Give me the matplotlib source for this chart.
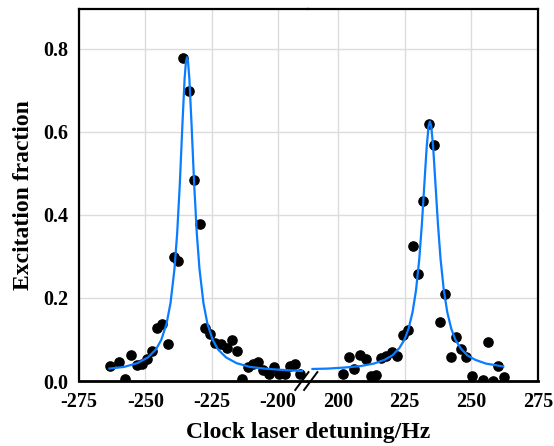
import numpy as np
import matplotlib
matplotlib.use("Agg")
import matplotlib.pyplot as plt

plt.rcParams['font.family'] = ['Liberation Serif', 'DejaVu Serif']
plt.rcParams['font.weight'] = 'bold'
plt.rcParams['axes.unicode_minus'] = False

# measured points (detuning in Hz, excitation fraction)
left_x = [-263.3, -259.8, -257.7, -255.5, -253.3, -251.4, -249.5, -247.6, -245.7, -243.9,
          -241.4, -239.2, -237.5, -235.7, -233.6, -231.6, -229.4, -227.6, -225.7, -223.8,
          -221.3, -219.4, -217.5, -215.6, -213.5, -211.3, -209.4, -207.5, -205.6, -203.5,
          -201.6, -199.7, -197.4, -195.6, -193.7, -191.8]
left_y = [0.036, 0.046, 0.005, 0.063, 0.039, 0.042, 0.052, 0.073, 0.127, 0.137,
          0.089, 0.298, 0.288, 0.778, 0.698, 0.485, 0.378, 0.128, 0.113, 0.092,
          0.089, 0.079, 0.100, 0.072, 0.006, 0.033, 0.041, 0.047, 0.026, 0.018,
          0.034, 0.018, 0.017, 0.037, 0.041, 0.017]

right_x = [202.0, 204.2, 206.1, 208.3, 210.4, 212.4, 214.3, 216.1, 218.0, 220.2,
           222.3, 224.3, 226.2, 228.3, 230.1, 232.0, 234.3, 236.2, 238.3, 240.0,
           242.3, 244.1, 246.1, 248.0, 250.2, 254.3, 256.2, 258.1, 260.2, 262.1]
right_y = [0.017, 0.058, 0.028, 0.062, 0.053, 0.012, 0.014, 0.055, 0.060, 0.071,
           0.060, 0.110, 0.123, 0.325, 0.259, 0.434, 0.619, 0.569, 0.143, 0.209,
           0.057, 0.105, 0.076, 0.057, 0.012, 0.002, 0.095, 0.0, 0.036, 0.009]

# fitted line
fit_left_x = [-263.5, -258, -253, -249, -246, -244, -242, -240.5, -239, -238, -237, -236,
              -235.2, -234.7, -234.3, -233.9, -233.4, -232.6, -231.6, -230.6, -229.6,
              -228.1, -226.6, -224.6, -222.6, -219.6, -215.6, -210.6, -205.1, -199, -191]
fit_left_y = [0.030, 0.034, 0.043, 0.057, 0.076, 0.099, 0.138, 0.188, 0.271, 0.356, 0.475, 0.621,
              0.728, 0.769, 0.780, 0.769, 0.728, 0.621, 0.475, 0.356, 0.271,
              0.188, 0.138, 0.099, 0.076, 0.057, 0.043, 0.034, 0.030, 0.027, 0.024]
fit_right_x = [190.5, 196.5, 202.5, 208.5, 213.5, 217.5, 220.5, 223, 225, 226.5, 228, 229.3,
               230.5, 231.5, 232.5, 233.3, 234, 234.5, 235, 235.7, 236.5, 237.5, 238.5,
               239.7, 241, 242.5, 244, 246, 248.5, 251.5, 255.5, 262]
fit_right_y = [0.029, 0.030, 0.0325, 0.036, 0.042, 0.051, 0.062, 0.079, 0.100, 0.126, 0.166, 0.219,
               0.293, 0.379, 0.483, 0.565, 0.614, 0.625, 0.614, 0.565, 0.483, 0.379, 0.293,
               0.219, 0.166, 0.126, 0.100, 0.079, 0.062, 0.051, 0.042, 0.035]

left_ticks = [-275, -250, -225, -200]
right_ticks = [200, 225, 250, 275]
y_ticks = [0.0, 0.2, 0.4, 0.6, 0.8]

fig = plt.figure(figsize=(5.54, 4.46), dpi=100)
gs = fig.add_gridspec(1, 2, left=0.1426, right=0.9711, bottom=0.1457, top=0.9787, wspace=0)
ax1 = fig.add_subplot(gs[0])
ax2 = fig.add_subplot(gs[1], sharey=ax1)

blue = '#0a7cff'
for ax, px, py, fx, fy in [(ax1, left_x, left_y, fit_left_x, fit_left_y),
                           (ax2, right_x, right_y, fit_right_x, fit_right_y)]:
    ax.scatter(px, py, s=44, color='black', zorder=3)
    ax.plot(fx, fy, color=blue, lw=1.6, zorder=4)
    ax.grid(True, color='#dcdcdc', lw=1.0)
    ax.set_axisbelow(True)
    for s in ax.spines.values():
        s.set_linewidth(1.6)
    ax.spines['bottom'].set_linewidth(2.0)
    ax.tick_params(length=0, labelsize=14.5, pad=8)

ax1.set_xlim(-275, -188.5)
ax2.set_xlim(189, 275)
ax1.set_ylim(0, 0.895)
ax1.set_xticks(left_ticks)
ax2.set_xticks(right_ticks)
ax1.set_yticks(y_ticks)
ax1.set_yticklabels(['%.1f' % v for v in y_ticks])
ax1.spines['right'].set_visible(False)
ax2.spines['left'].set_visible(False)
ax2.tick_params(axis='y', left=False, labelleft=False)

# break marks
d = 0.012
kw = dict(transform=fig.transFigure, color='black', lw=1.4, clip_on=False, zorder=10)
xb = 0.5569
yb = 0.1457
fig.add_artist(plt.Line2D([xb - 0.012 - d, xb - 0.012 + d], [yb - 0.02, yb + 0.02], **kw))
fig.add_artist(plt.Line2D([xb + 0.004 - d, xb + 0.004 + d], [yb - 0.02, yb + 0.02], **kw))

ax1.set_ylabel('Excitation fraction', fontsize=17, fontweight='bold', labelpad=6)
fig.text(0.5569, 0.03, 'Clock laser detuning/Hz', ha='center', va='center',
         fontsize=17, fontweight='bold')

fig.savefig('out.png', dpi=100)
